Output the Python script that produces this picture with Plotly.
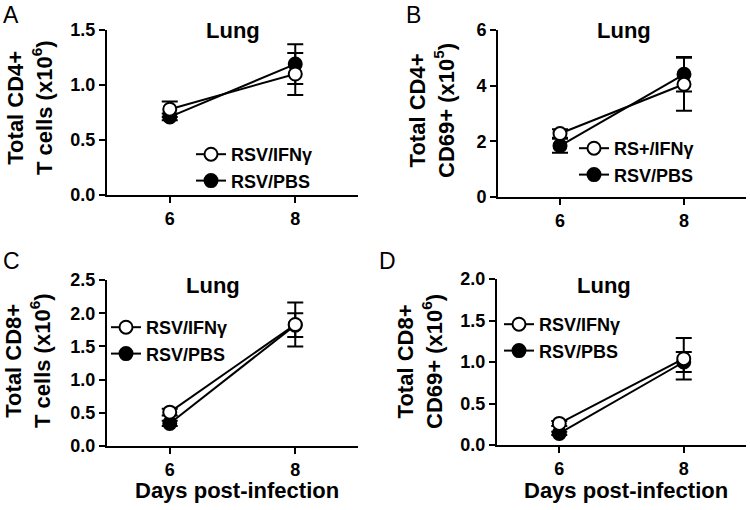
import plotly.graph_objects as go

# days post-infection
days = [6, 8]

# panel A - Total CD4+ T cells (x10^6)
a_ifn = [0.78, 1.10]
a_ifn_err = [0.07, 0.19]
a_pbs = [0.71, 1.19]
a_pbs_err = [0.03, 0.18]

# panel B - Total CD4+ CD69+ (x10^5)
b_ifn = [2.28, 4.05]
b_ifn_err = [0.15, 0.95]
b_pbs = [1.84, 4.41]
b_pbs_err = [0.25, 0.62]

# panel C - Total CD8+ T cells (x10^6)
c_ifn = [0.51, 1.83]
c_ifn_err = [0.05, 0.33]
c_pbs = [0.34, 1.82]
c_pbs_err = [0.04, 0.18]

# panel D - Total CD8+ CD69+ (x10^6)
d_ifn = [0.26, 1.04]
d_ifn_err = [0.03, 0.25]
d_pbs = [0.14, 1.00]
d_pbs_err = [0.02, 0.12]

FONT = "Liberation Sans, Arial, sans-serif"
W, H = 750, 510

panels = [
    dict(letter="A", ifn_name="RSV/IFNγ", ifn=a_ifn, ifn_err=a_ifn_err, pbs=a_pbs, pbs_err=a_pbs_err,
         ytitle="Total CD4+<br>T cells (x10<sup>6</sup>)", yrange=[0, 1.5], ytick=[0, 0.5, 1.0, 1.5], fmt=".1f",
         xpx=(107, 358), ypx=(30, 195), leg=(191, 136), title=(233, 30), ylab=(30, 108), lab=(1, 0), xtitle=False),
    dict(letter="B", ifn_name="RS+/IFNγ", ifn=b_ifn, ifn_err=b_ifn_err, pbs=b_pbs, pbs_err=b_pbs_err,
         ytitle="Total CD4+<br>CD69+ (x10<sup>5</sup>)", yrange=[0, 6], ytick=[0, 2, 4, 6], fmt="d",
         xpx=(498, 746), ypx=(30, 197), leg=(574, 130), title=(624, 30), ylab=(432, 110), lab=(404, 0), xtitle=False),
    dict(letter="C", ifn_name="RSV/IFNγ", ifn=c_ifn, ifn_err=c_ifn_err, pbs=c_pbs, pbs_err=c_pbs_err,
         ytitle="Total CD8+<br>T cells (x10<sup>6</sup>)", yrange=[0, 2.5], ytick=[0, 0.5, 1.0, 1.5, 2.0, 2.5], fmt=".1f",
         xpx=(107, 358), ypx=(280, 446), leg=(106, 309), title=(213, 285), ylab=(28, 361), lab=(1, 246), xtitle=True),
    dict(letter="D", ifn_name="RSV/IFNγ", ifn=d_ifn, ifn_err=d_ifn_err, pbs=d_pbs, pbs_err=d_pbs_err,
         ytitle="Total CD8+<br>CD69+ (x10<sup>6</sup>)", yrange=[0, 2.0], ytick=[0, 0.5, 1.0, 1.5, 2.0], fmt=".1f",
         xpx=(497, 746), ypx=(279, 445), leg=(499, 306), title=(604, 285), ylab=(420, 362), lab=(377, 246), xtitle=True),
]

fig = go.Figure()
layout = dict(
    width=W, height=H,
    margin=dict(l=0, r=0, t=0, b=0, autoexpand=False),
    paper_bgcolor="white", plot_bgcolor="white",
    font=dict(family=FONT, color="black"),
    annotations=[],
)

for i, p in enumerate(panels):
    n = "" if i == 0 else str(i + 1)
    xa, ya = "x" + n, "y" + n
    lg = "legend" + n

    # PBS first so the open circles sit on top
    fig.add_trace(go.Scatter(
        x=days, y=p["pbs"], xaxis=xa, yaxis=ya, name="RSV/PBS", legend=lg, legendrank=2,
        mode="lines+markers", cliponaxis=False,
        line=dict(color="black", width=2),
        marker=dict(symbol="circle", size=13, color="black", line=dict(color="black", width=2)),
        error_y=dict(type="data", array=p["pbs_err"], color="black", thickness=2, width=8),
    ))
    fig.add_trace(go.Scatter(
        x=days, y=p["ifn"], xaxis=xa, yaxis=ya, name=p["ifn_name"], legend=lg, legendrank=1,
        mode="lines+markers", cliponaxis=False,
        line=dict(color="black", width=2),
        marker=dict(symbol="circle", size=13, color="white", line=dict(color="black", width=2)),
        error_y=dict(type="data", array=p["ifn_err"], color="black", thickness=2, width=8),
    ))

    x0, x1 = p["xpx"]
    yt, yb = p["ypx"]
    layout["xaxis" + n] = dict(
        domain=[x0 / W, x1 / W], anchor=ya, range=[5, 9], automargin=False,
        tickvals=days, ticks="outside", ticklen=6, tickwidth=2, tickcolor="black",
        showline=True, linewidth=2, linecolor="black",
        showgrid=False, zeroline=False,
        tickfont=dict(size=18, weight="bold", family=FONT),
    )
    layout["yaxis" + n] = dict(
        domain=[1 - yb / H, 1 - yt / H], anchor=xa, range=p["yrange"], automargin=False,
        tickvals=p["ytick"], tickformat=p["fmt"], ticks="outside", ticklen=6, tickwidth=2, tickcolor="black",
        showline=True, linewidth=2, linecolor="black",
        showgrid=False, zeroline=False,
        tickfont=dict(size=18, weight="bold", family=FONT),
    )
    lx, ly = p["leg"]
    layout[lg] = dict(
        x=lx / W, y=1 - ly / H, xanchor="left", yanchor="top",
        bgcolor="rgba(0,0,0,0)", borderwidth=0,
        font=dict(size=18, weight="bold", family=FONT),
        traceorder="normal",
    )

    tx, ty = p["title"]
    layout["annotations"].append(dict(
        text="<b>Lung</b>", x=tx / W, y=1 - ty / H, xref="paper", yref="paper",
        showarrow=False, xanchor="center", yanchor="middle", font=dict(size=22),
    ))
    yx, yy = p["ylab"]
    layout["annotations"].append(dict(
        text="<b>" + p["ytitle"] + "</b>", x=yx / W, y=1 - yy / H, xref="paper", yref="paper",
        showarrow=False, textangle=-90, xanchor="center", yanchor="middle", font=dict(size=22),
    ))
    bx, by = p["lab"]
    layout["annotations"].append(dict(
        text=p["letter"], x=bx / W, y=1 - by / H, xref="paper", yref="paper",
        showarrow=False, xanchor="left", yanchor="top", font=dict(size=23),
    ))
    if p["xtitle"]:
        layout["annotations"].append(dict(
            text="<b>Days post-infection</b>", x=((x0 + x1) / 2 + 4) / W, y=1 - 490 / H,
            xref="paper", yref="paper", showarrow=False, xanchor="center", yanchor="middle",
            font=dict(size=22),
        ))

fig.update_layout(**layout)
# drop the default page margin so the figure fills the window
fig.write_html("out.html", config={"displayModeBar": False},
               post_script="document.body.style.margin='0';")
